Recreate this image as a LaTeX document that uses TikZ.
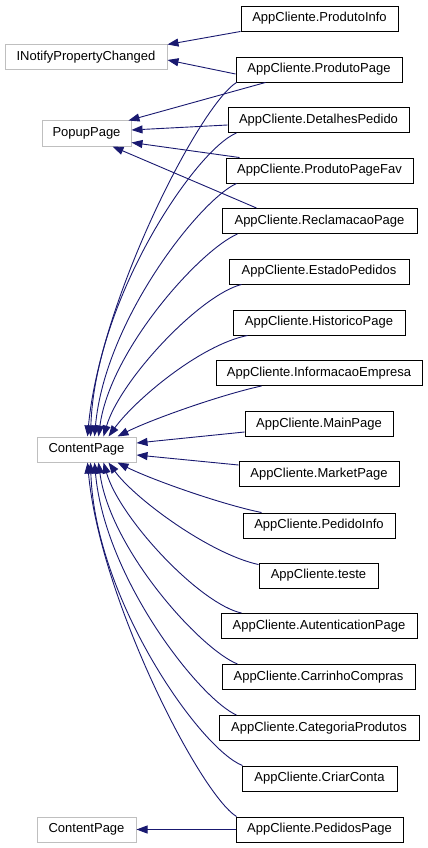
\documentclass[tikz,border=0pt]{standalone}
\usepackage{fontspec}
\setmainfont{Liberation Sans}
\usetikzlibrary{arrows.meta}
\definecolor{edgeblue}{RGB}{25,25,112}
\definecolor{boxgray}{RGB}{191,191,191}
\begin{document}
\begin{tikzpicture}[x=1pt,y=-1pt,
  cls/.style={draw=black,line width=0.95pt,fill=white,rectangle,inner sep=0pt,minimum height=25pt,font=\fontsize{13}{15}\selectfont},
  ext/.style={draw=boxgray,line width=1pt,fill=white,rectangle,inner sep=0pt,minimum height=25pt,font=\fontsize{13}{15}\selectfont},
  edge/.style={draw=edgeblue,line width=0.9pt,-{Triangle[length=11pt,width=8pt]},fill=none}]
\useasboundingbox (0,0) rectangle (428,848);
% left (external) nodes
\node[ext,minimum width=162pt] (inp) at (86,57.5) {INotifyPropertyChanged};
\node[ext,minimum width=89pt] (pu) at (86.5,133.5) {PopupPage};
\node[ext,minimum width=99pt] (cp) at (86.5,449.5) {ContentPage};
\node[ext,minimum width=99pt] (cp2) at (86.5,829.5) {ContentPage};
% right (class) nodes
\node[cls,minimum width=157pt] (pinf) at (319.5,18.5) {AppCliente.ProdutoInfo};
\node[cls,minimum width=166pt] (pp) at (319,69.5) {AppCliente.ProdutoPage};
\node[cls,minimum width=181pt] (dp) at (318.5,120) {AppCliente.DetalhesPedido};
\node[cls,minimum width=187pt] (fav) at (319.5,170.5) {AppCliente.ProdutoPageFav};
\node[cls,minimum width=195pt] (rp) at (319.5,221) {AppCliente.ReclamacaoPage};
\node[cls,minimum width=180pt] (ep) at (319,271.5) {AppCliente.EstadoPedidos};
\node[cls,minimum width=172pt] (hp) at (319,322.5) {AppCliente.HistoricoPage};
\node[cls,minimum width=206pt] (ie) at (319,373) {AppCliente.InformacaoEmpresa};
\node[cls,minimum width=148pt] (mp) at (319,424) {AppCliente.MainPage};
\node[cls,minimum width=160pt] (mk) at (319,474) {AppCliente.MarketPage};
\node[cls,minimum width=152pt] (pi) at (319,525.5) {AppCliente.PedidoInfo};
\node[cls,minimum width=119pt] (te) at (318.5,575.5) {AppCliente.teste};
\node[cls,minimum width=196pt] (au) at (319,626) {AppCliente.AutenticationPage};
\node[cls,minimum width=193pt] (cc) at (318.5,677) {AppCliente.CarrinhoCompras};
\node[cls,minimum width=200pt] (cat) at (319,728) {AppCliente.CategoriaProdutos};
\node[cls,minimum width=155pt] (cr) at (319.5,778.5) {AppCliente.CriarConta};
\node[cls,minimum width=167pt] (pe) at (319.5,829.5) {AppCliente.PedidosPage};
% INotifyPropertyChanged
\draw[edge] (pinf.south west) -- (inp.north east);
\draw[edge] ([yshift=-4.5pt]pp.west) -- ([yshift=-2.5pt]inp.east);
% PopupPage
\draw[edge] ([xshift=30pt]pp.south west) -- ([xshift=-3pt]pu.north east);
\draw[edge] ([yshift=-5pt]dp.west) -- ([yshift=3.5pt]pu.east);
\draw[edge] ([xshift=14pt]fav.north west) -- ([yshift=4pt]pu.south east);
\draw[edge] ([xshift=35pt]rp.north west) -- ([xshift=71pt]pu.south west);
% ContentPage, upper group
\draw[edge] ([xshift=1pt]pp.south west) .. controls (200,105) and (100,300) .. ([xshift=51pt]cp.north west);
\draw[edge] ([xshift=9pt]dp.south west) .. controls (195,150) and (95,300) .. ([xshift=54pt]cp.north west);
\draw[edge] ([xshift=11pt]fav.south west) .. controls (200,200) and (105,320) .. ([xshift=58pt]cp.north west);
\draw[edge] ([xshift=16pt]rp.south west) .. controls (200,250) and (110,350) .. ([xshift=62pt]cp.north west);
\draw[edge] ([xshift=13pt]ep.south west) .. controls (200,295) and (120,380) .. ([xshift=67pt]cp.north west);
\draw[edge] ([xshift=15pt]hp.south west) .. controls (200,345) and (135,400) .. ([xshift=72pt]cp.north west);
\draw[edge] ([xshift=46pt]ie.south west) .. controls (220,395) and (150,420) .. ([xshift=81pt]cp.north west);
\draw[edge] ([yshift=-8pt]mp.west) -- ([yshift=6.5pt]cp.east);
\draw[edge] ([yshift=9pt]mk.west) -- ([yshift=-5.5pt]cp.east);
% ContentPage, lower group
\draw[edge] ([xshift=19pt]pi.north west) .. controls (220,504) and (150,479) .. ([xshift=81pt]cp.south west);
\draw[edge] ([yshift=-2pt]te.north west) .. controls (210,554) and (135,499) .. ([xshift=72pt]cp.south west);
\draw[edge] ([xshift=21pt]au.north west) .. controls (200,604) and (120,519) .. ([xshift=67pt]cp.south west);
\draw[edge] ([xshift=16pt]cc.north west) .. controls (200,649) and (110,549) .. ([xshift=62pt]cp.south west);
\draw[edge] ([xshift=18pt]cat.north west) .. controls (200,699) and (105,579) .. ([xshift=58pt]cp.south west);
\draw[edge] ([xshift=1pt]cr.north west) .. controls (200,749) and (95,599) .. ([xshift=54pt]cp.south west);
\draw[edge] ([xshift=1pt]pe.north west) .. controls (200,794) and (100,599) .. ([xshift=51pt]cp.south west);
% second ContentPage
\draw[edge] (pe.west) -- (cp2.east);
\end{tikzpicture}
\end{document}
